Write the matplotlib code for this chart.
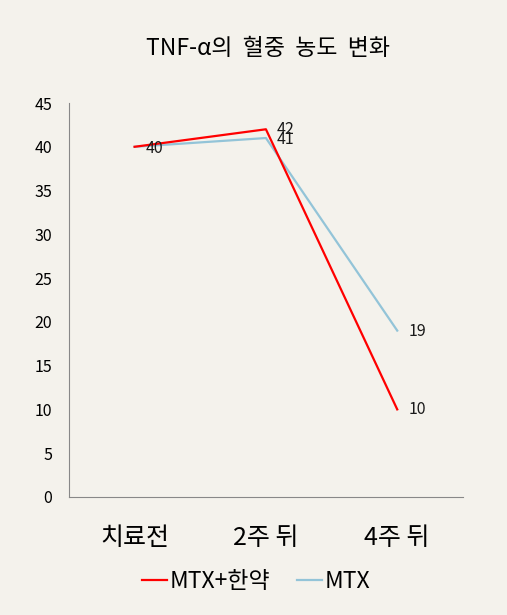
import matplotlib
matplotlib.use("Agg")
import matplotlib.pyplot as plt

plt.rcParams['font.family'] = ['Noto Sans CJK KR', 'DejaVu Sans']

categories = ['치료전', '2주 뒤', '4주 뒤']
series_names = ['MTX+한약', 'MTX']
mtx_herb = [40, 42, 10]
mtx = [40, 41, 19]
yticks = [0, 5, 10, 15, 20, 25, 30, 35, 40, 45]

bg = '#F4F2EC'
red = '#FF0000'
blue = '#93C4D8'

fig = plt.figure(figsize=(5.07, 6.15), dpi=100, facecolor=bg)
ax = fig.add_axes([0.136, 0.192, 0.777, 0.6405], facecolor=bg)

x = list(range(len(categories)))
ax.plot(x, mtx_herb, color=red, lw=1.6, label=series_names[0], zorder=3)
ax.plot(x, mtx, color=blue, lw=1.6, label=series_names[1], zorder=2)

for xi, v in zip(x, mtx_herb):
    if xi == 0:
        continue
    ax.annotate(str(v), (xi, v), xytext=(8, 0), textcoords='offset points',
                va='center', ha='left', fontsize=11.5, color='#1a1a1a')
for xi, v in zip(x, mtx):
    ax.annotate(str(v), (xi, v), xytext=(8, -1), textcoords='offset points',
                va='center', ha='left', fontsize=11.5, color='#1a1a1a')

ax.set_xlim(-0.5, 2.5)
ax.set_ylim(0, 45)
ax.set_yticks(yticks)
ax.set_xticks(x)
ax.set_xticklabels(categories, fontsize=18)
ax.tick_params(axis='both', length=0)
ax.tick_params(axis='y', labelsize=11.5, pad=12)
ax.tick_params(axis='x', pad=20)
for s in ['top', 'right']:
    ax.spines[s].set_visible(False)
for s in ['left', 'bottom']:
    ax.spines[s].set_color('#888888')
    ax.spines[s].set_linewidth(0.8)

fig.text(0.528, 0.921, 'TNF-α의  혈중  농도  변화', ha='center', va='center', fontsize=16.5)

leg = fig.legend(loc='center', bbox_to_anchor=(0.505, 0.055), ncol=2, frameon=False,
                 fontsize=16.5, handlelength=1.1, handletextpad=0.1, columnspacing=1.2)

fig.savefig('out.png', dpi=100, facecolor=bg)
